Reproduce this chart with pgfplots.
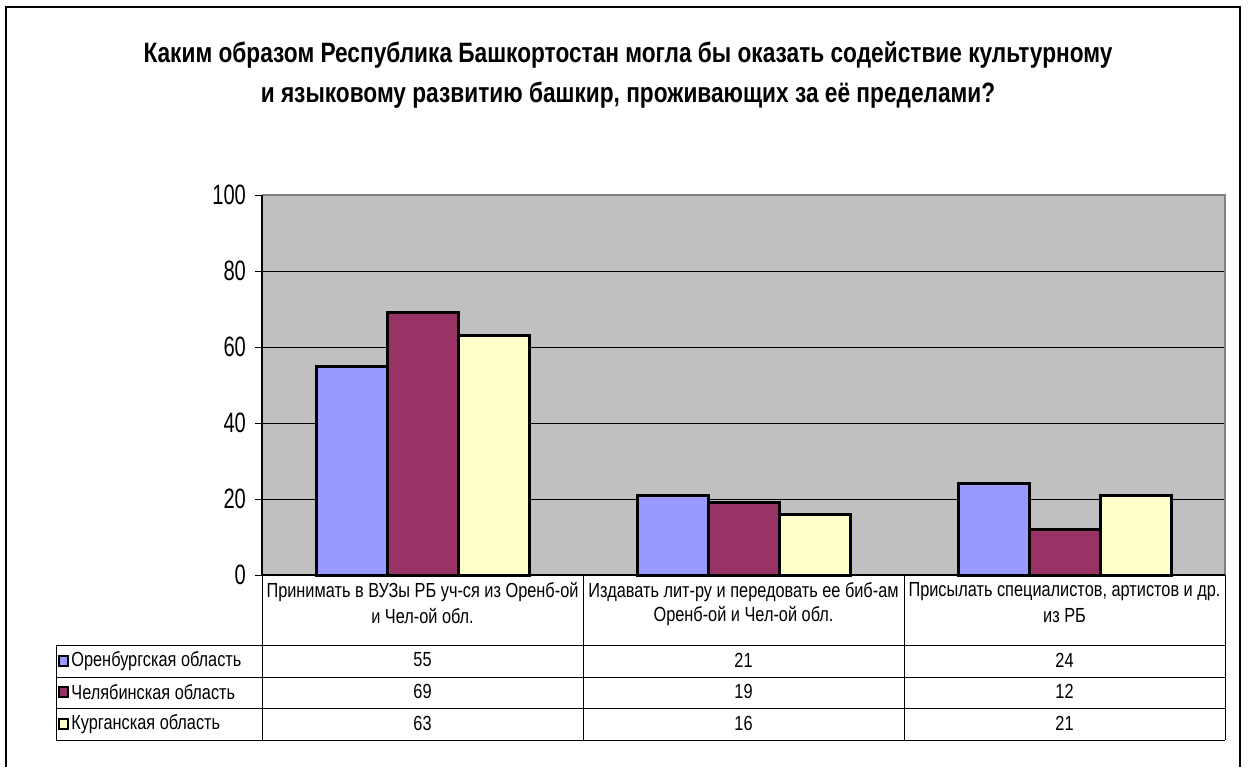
\documentclass[border=0pt]{standalone}
\usepackage{pgfplots}
\pgfplotsset{compat=1.18}
\usepackage{fontspec}
\setmainfont{Liberation Sans}[FakeStretch=0.8]
\newfontfamily\titlefont{Liberation Sans}[FakeStretch=0.81]
\newfontfamily\tickfont{Liberation Sans}[FakeStretch=0.72]
\definecolor{cA}{HTML}{9999FF}
\definecolor{cB}{HTML}{993366}
\definecolor{cC}{HTML}{FFFFCC}
\definecolor{plotbg}{HTML}{C0C0C0}
\definecolor{frameg}{HTML}{808080}
\begin{document}
\begin{tikzpicture}
\begin{axis}[
  at={(131pt,-287.5pt)}, anchor=south west,
  scale only axis, width=481.5pt, height=190pt,
  xmin=-0.5, xmax=2.5, ymin=0, ymax=100,
  ybar=0pt, bar width=35.5pt,
  axis background/.style={fill=plotbg},
  axis line style={draw=none},
  xtick=\empty,
  ytick={0,20,...,100},
  ytick pos=left, tick align=outside,
  major tick length=3.5pt,
  tick style={black, line width=0.5pt},
  ymajorgrids, major grid style={black, line width=0.5pt},
  /pgf/number format/assume math mode=true,
  yticklabel style={font=\tickfont\fontsize{14}{16}\selectfont, xshift=-1pt},
  clip=false,
]
\addplot[fill=cA, draw=black, line width=1.5pt] coordinates {(0,55) (1,21) (2,24)};
\addplot[fill=cB, draw=black, line width=1.5pt] coordinates {(0,69) (1,19) (2,12)};
\addplot[fill=cC, draw=black, line width=1.5pt] coordinates {(0,63) (1,16) (2,21)};
\draw[line width=1.3pt, frameg] (rel axis cs:0,1) -- (rel axis cs:1,1) -- (rel axis cs:1,0);
\draw[line width=0.7pt, black] (rel axis cs:0,1) -- (rel axis cs:0,0) -- (rel axis cs:1,0);
\end{axis}
\begin{scope}[x=0.5pt, y=-0.5pt]
\path[use as bounding box] (0,0) rectangle (1248,767);
% outer frame
\draw[line width=1pt] (6,767) -- (6,7) -- (1240,7) -- (1240,767);
% title
\node[font=\titlefont\fontsize{14}{16}\selectfont\bfseries] at (628,55) {Каким образом Республика Башкортостан могла бы оказать содействие культурному};
\node[font=\titlefont\fontsize{14}{16}\selectfont\bfseries] at (628,95) {и языковому развитию башкир, проживающих за её пределами?};
% table grid
\draw[line width=0.5pt] (262,575) -- (262,740);
\draw[line width=0.5pt] (583,575) -- (583,740);
\draw[line width=0.5pt] (904,575) -- (904,740);
\draw[line width=0.5pt] (1225,575) -- (1225,740);
\draw[line width=0.5pt] (56,645) -- (1225,645);
\draw[line width=0.5pt] (56,677) -- (1225,677);
\draw[line width=0.5pt] (56,708) -- (1225,708);
\draw[line width=0.5pt] (56,740) -- (1225,740);
\draw[line width=0.5pt] (56,645) -- (56,740);
\tikzset{tt/.style={font=\fontsize{10.2}{12}\selectfont, inner sep=0pt}}
% headers
\node[tt] at (422.5,592) {Принимать в ВУЗы РБ уч-ся из Оренб-ой};
\node[tt] at (422.5,616) {и Чел-ой обл.};
\node[tt] at (743.5,592) {Издавать лит-ру и передовать ее биб-ам};
\node[tt] at (743.5,616) {Оренб-ой и Чел-ой обл.};
\node[tt] at (1064.5,592) {Присылать специалистов, артистов и др.};
\node[tt] at (1064.5,616) {из РБ};
% legend keys
\draw[fill=cA, line width=1pt] (59,656) rectangle (68,666);
\draw[fill=cB, line width=1pt] (59,687) rectangle (68,697);
\draw[fill=cC, line width=1pt] (59,719) rectangle (68,729);
\node[tt, anchor=west] at (71,661) {Оренбургская область};
\node[tt, anchor=west] at (71,692) {Челябинская область};
\node[tt, anchor=west] at (71,724) {Курганская область};
% values
\node[tt] at (422.5,660) {55}; \node[tt] at (743.5,660) {21}; \node[tt] at (1064.5,660) {24};
\node[tt] at (422.5,691) {69}; \node[tt] at (743.5,691) {19}; \node[tt] at (1064.5,691) {12};
\node[tt] at (422.5,723) {63}; \node[tt] at (743.5,723) {16}; \node[tt] at (1064.5,723) {21};
\end{scope}
\end{tikzpicture}
\end{document}
